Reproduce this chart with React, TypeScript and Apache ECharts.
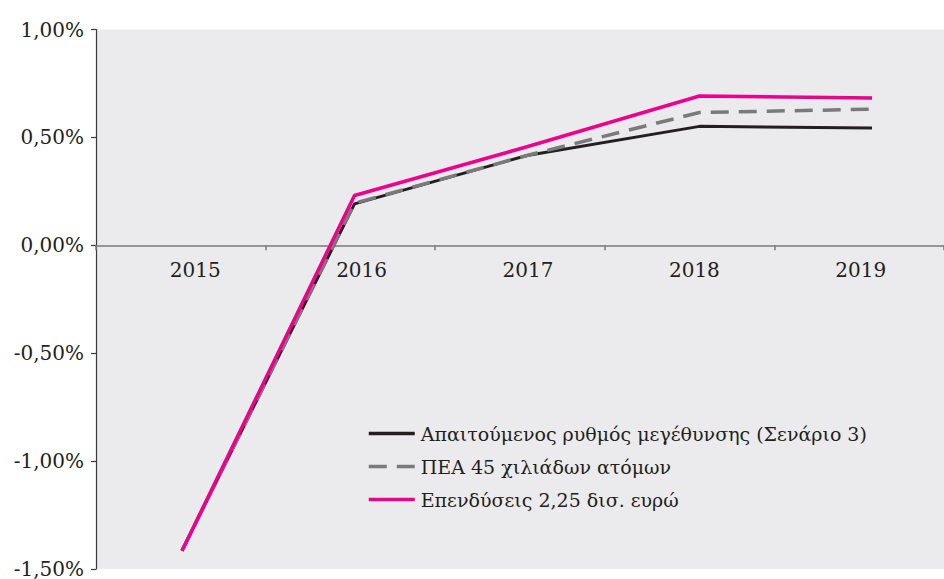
import React, { useEffect, useRef } from "react";
import * as echarts from "echarts";

const years = ["2015", "2016", "2017", "2018", "2019"];
const requiredGrowth = [-1.4, 0.197, 0.42, 0.554, 0.546];
const pea45 = [-1.4, 0.2, 0.42, 0.618, 0.633];
const investments = [-1.4, 0.236, 0.46, 0.694, 0.685];
const seriesNames = [
  "Απαιτούμενος ρυθμός μεγέθυνσης (Σενάριο 3)",
  "ΠΕΑ 45 χιλιάδων ατόμων",
  "Επενδύσεις 2,25 δισ. ευρώ",
];

const FONT = "DejaVu Serif";
const TEXT = "#231f20";

export default function App() {
  const ref = useRef<HTMLDivElement>(null);
  useEffect(() => {
    if (!ref.current) return;
    const chart = echarts.init(ref.current, undefined, { renderer: "svg" });
    const top = 29.5;
    const bottom = 6.5;
    const yHidden = (i: number) => ({
      type: "value",
      gridIndex: i,
      min: -1.5,
      max: 1,
      interval: 0.5,
      show: false,
      splitLine: { show: false },
    });
    chart.setOption({
      animation: false,
      textStyle: { fontFamily: FONT, color: TEXT },
      grid: [
        {
          left: 96,
          right: 0,
          top,
          bottom,
          show: true,
          backgroundColor: "#ebebed",
          borderWidth: 0,
        },
        { left: 112, right: -6, top, bottom: 332.5 },
        { left: 182, right: 72, top, bottom },
      ],
      xAxis: [
        {
          type: "category",
          gridIndex: 0,
          data: years,
          boundaryGap: true,
          axisLine: { onZero: true, lineStyle: { color: "#7a7a7a", width: 1.5 } },
          axisTick: { show: true, length: 5, lineStyle: { color: "#7a7a7a", width: 1.5 } },
          axisLabel: { show: false },
          splitLine: { show: false },
        },
        {
          type: "category",
          gridIndex: 1,
          data: years,
          boundaryGap: true,
          position: "bottom",
          axisLine: { show: false, onZero: false },
          axisTick: { show: false },
          axisLabel: {
            show: true,
            fontFamily: FONT,
            fontSize: 20,
            color: TEXT,
            margin: 13,
          },
          splitLine: { show: false },
        },
        {
          type: "category",
          gridIndex: 2,
          data: years,
          boundaryGap: false,
          show: false,
        },
      ],
      yAxis: [
        {
          type: "value",
          gridIndex: 0,
          min: -1.5,
          max: 1,
          interval: 0.5,
          axisLine: { show: true, lineStyle: { color: "#3a3a3a", width: 1.2 } },
          axisTick: { show: true, length: 5, lineStyle: { color: "#3a3a3a", width: 1.2 } },
          axisLabel: {
            fontFamily: FONT,
            fontSize: 20,
            color: TEXT,
            margin: 12,
            formatter: (v: number) => v.toFixed(2).replace(".", ",") + "%",
          },
          splitLine: { show: false },
        },
        yHidden(1),
        yHidden(2),
      ],
      legend: {
        orient: "vertical",
        left: 362,
        top: 419,
        itemWidth: 46,
        itemHeight: 14,
        itemGap: 14,
        data: seriesNames,
        itemStyle: { opacity: 0 },
        lineStyle: { width: 3.5 },
        textStyle: { fontFamily: FONT, fontSize: 19, color: TEXT, padding: [0, 0, 0, 1] },
      },
      series: [
        {
          name: seriesNames[0],
          type: "line",
          xAxisIndex: 2,
          yAxisIndex: 2,
          data: requiredGrowth,
          symbol: "none",
          lineStyle: { color: "#231f20", width: 3 },
          itemStyle: { color: "#231f20" },
        },
        {
          name: seriesNames[1],
          type: "line",
          xAxisIndex: 2,
          yAxisIndex: 2,
          data: pea45,
          symbol: "none",
          lineStyle: { color: "#7a7a7a", width: 3.5, type: [18, 10] },
          itemStyle: { color: "#7a7a7a" },
        },
        {
          name: seriesNames[2],
          type: "line",
          xAxisIndex: 2,
          yAxisIndex: 2,
          data: investments,
          symbol: "none",
          lineStyle: { color: "#ec008c", width: 3.5 },
          itemStyle: { color: "#ec008c" },
        },
      ],
    });
    return () => chart.dispose();
  }, []);
  return <div ref={ref} style={{ width: 944, height: 579, position: "absolute", left: 0, top: 0 }} />;
}
